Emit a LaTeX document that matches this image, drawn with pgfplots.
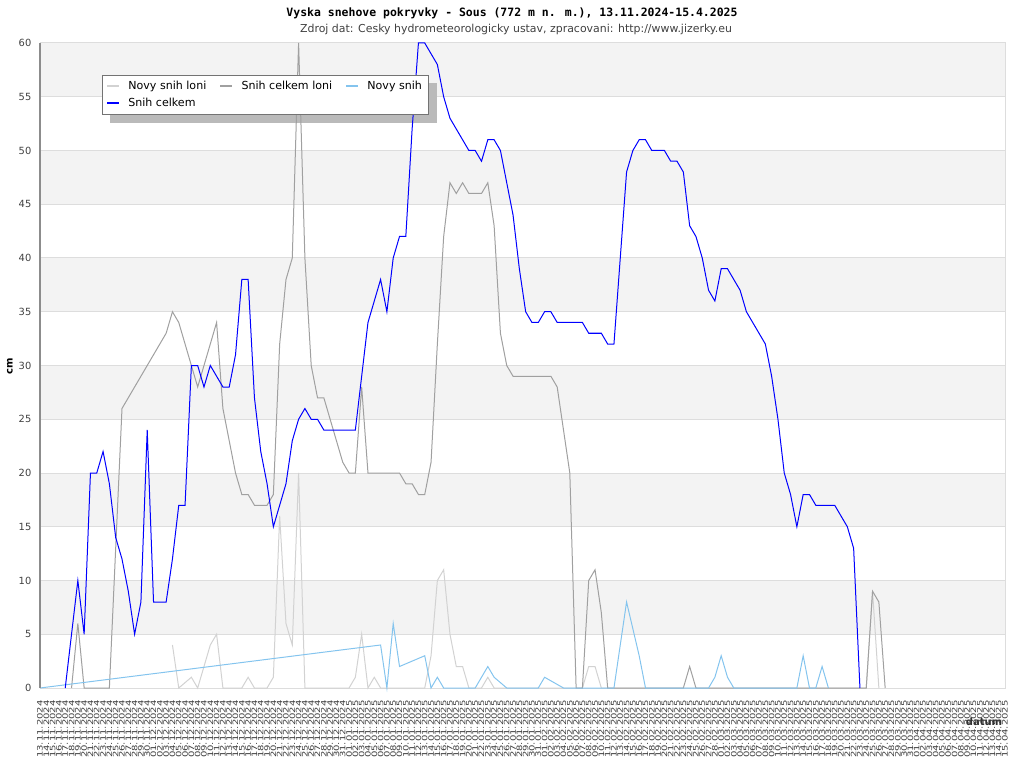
\documentclass[border=0pt]{standalone}
\usepackage{fontspec}
\setmainfont{DejaVu Sans}
\newfontfamily\monofont{DejaVu Sans Mono}
\newfontfamily\datefont[FakeStretch=1.35]{DejaVu Sans}
\usepackage{pgfplots}
\pgfplotsset{compat=1.18}

\definecolor{snowblue}{HTML}{0000FF}
\definecolor{newblue}{HTML}{84C4EE}
\definecolor{lastgray}{HTML}{A0A0A0}
\definecolor{newgray}{HTML}{D2D2D2}
\definecolor{band}{HTML}{F3F3F3}
\definecolor{gridc}{HTML}{DDDDDD}

\begin{document}
\begin{tikzpicture}
\begin{axis}[
  set layers,
  scale only axis,
  at={(30pt,60pt)}, anchor=south west,
  width=723.75pt, height=483.75pt,
  xmin=0, xmax=153, ymin=0, ymax=60,
  ytick={0,5,...,60},
  xtick={0,...,153},
  xticklabels={13.11.2024,14.11.2024,15.11.2024,16.11.2024,17.11.2024,18.11.2024,19.11.2024,20.11.2024,21.11.2024,22.11.2024,23.11.2024,24.11.2024,25.11.2024,26.11.2024,27.11.2024,28.11.2024,29.11.2024,30.11.2024,
    01.12.2024,02.12.2024,03.12.2024,04.12.2024,05.12.2024,06.12.2024,07.12.2024,08.12.2024,09.12.2024,10.12.2024,11.12.2024,12.12.2024,13.12.2024,14.12.2024,15.12.2024,16.12.2024,17.12.2024,18.12.2024,19.12.2024,20.12.2024,21.12.2024,22.12.2024,23.12.2024,24.12.2024,25.12.2024,26.12.2024,27.12.2024,28.12.2024,29.12.2024,30.12.2024,31.12.2024,
    01.01.2025,02.01.2025,03.01.2025,04.01.2025,05.01.2025,06.01.2025,07.01.2025,08.01.2025,09.01.2025,10.01.2025,11.01.2025,12.01.2025,13.01.2025,14.01.2025,15.01.2025,16.01.2025,17.01.2025,18.01.2025,19.01.2025,20.01.2025,21.01.2025,22.01.2025,23.01.2025,24.01.2025,25.01.2025,26.01.2025,27.01.2025,28.01.2025,29.01.2025,30.01.2025,31.01.2025,
    01.02.2025,02.02.2025,03.02.2025,04.02.2025,05.02.2025,06.02.2025,07.02.2025,08.02.2025,09.02.2025,10.02.2025,11.02.2025,12.02.2025,13.02.2025,14.02.2025,15.02.2025,16.02.2025,17.02.2025,18.02.2025,19.02.2025,20.02.2025,21.02.2025,22.02.2025,23.02.2025,24.02.2025,25.02.2025,26.02.2025,27.02.2025,28.02.2025,
    01.03.2025,02.03.2025,03.03.2025,04.03.2025,05.03.2025,06.03.2025,07.03.2025,08.03.2025,09.03.2025,10.03.2025,11.03.2025,12.03.2025,13.03.2025,14.03.2025,15.03.2025,16.03.2025,17.03.2025,18.03.2025,19.03.2025,20.03.2025,21.03.2025,22.03.2025,23.03.2025,24.03.2025,25.03.2025,26.03.2025,27.03.2025,28.03.2025,29.03.2025,30.03.2025,31.03.2025,
    01.04.2025,02.04.2025,03.04.2025,04.04.2025,05.04.2025,06.04.2025,07.04.2025,08.04.2025,09.04.2025,10.04.2025,11.04.2025,12.04.2025,13.04.2025,14.04.2025,15.04.2025},
  ymajorgrids, major grid style={gridc, line width=0.75pt},
  major tick length=0pt,
  axis line style={draw=gridc, line width=0.75pt},
  clip=false,
  /pgf/number format/assume math mode=true,
  yticklabel style={font=\fontsize{7.4}{8}\selectfont, text=black!75, xshift=-3pt},
  xticklabel style={font=\datefont\fontsize{5.6}{6}\selectfont, rotate=90, anchor=east, inner sep=0pt, text=black!75},
  xticklabel shift=9pt,
  legend columns=3,
  legend cell align=left,
  legend style={name=leg, at={(0.0642,0.9507)}, anchor=north west, draw=black!55, fill=white,
    font=\fontsize{8.3}{10}\selectfont, inner xsep=3pt, inner ysep=2.4pt, row sep=1pt,
    /tikz/every odd column/.append style={column sep=4.5pt},
    /tikz/every even column/.append style={column sep=7.8pt}},
  legend image code/.code={\draw[#1, line width=1.6pt] (0pt,0pt) -- (8.5pt,0pt);},
]
\begin{pgfonlayer}{axis background}
\fill[band] (axis cs:0,5) rectangle (axis cs:153,10);
\fill[band] (axis cs:0,15) rectangle (axis cs:153,20);
\fill[band] (axis cs:0,25) rectangle (axis cs:153,30);
\fill[band] (axis cs:0,35) rectangle (axis cs:153,40);
\fill[band] (axis cs:0,45) rectangle (axis cs:153,50);
\fill[band] (axis cs:0,55) rectangle (axis cs:153,60);
\end{pgfonlayer}

% Novy snih loni
\addplot[newgray, line width=0.75pt] coordinates {
(21,4) (22,0) (24,1) (25,0) (27,4) (28,5) (29,0) (32,0) (33,1) (34,0) (36,0) (37,1)
(38,16) (39,6) (40,4) (41,20) (42,0) (49,0) (50,1) (51,5) (52,0) (53,1) (54,0)
(61,0) (62,3) (63,10) (64,11) (65,5) (66,2) (67,2) (68,0) (70,0) (71,1) (72,0)
(86,0) (87,2) (88,2) (89,0) (131,0) (132,9) (133,0)
};
\addlegendentry{Novy snih loni}

% Snih celkem loni
\addplot[lastgray, line width=0.75pt] coordinates {
(5,0) (6,6) (7,0) (11,0) (13,26) (20,33) (21,35) (22,34) (23,32) (24,30) (25,28)
(26,30) (27,32) (28,34) (29,26) (30,23) (31,20) (32,18) (33,18) (34,17) (35,17)
(36,17) (37,18) (38,32) (39,38) (40,40) (41,60) (42,40) (43,30) (44,27) (45,27)
(46,25) (47,23) (48,21) (49,20) (50,20) (51,28) (52,20) (53,20) (54,20) (55,20)
(56,20) (57,20) (58,19) (59,19) (60,18) (61,18) (62,21) (63,32) (64,42) (65,47)
(66,46) (67,47) (68,46) (69,46) (70,46) (71,47) (72,43) (73,33) (74,30) (75,29)
(76,29) (77,29) (78,29) (79,29) (80,29) (81,29) (82,28) (83,24) (84,20) (85,0)
(86,0) (87,10) (88,11) (89,7) (90,0) (102,0) (103,2) (104,0) (131,0) (132,9)
(133,8) (134,0)
};
\addlegendentry{Snih celkem loni}

% Novy snih
\addplot[newblue, line width=0.75pt] coordinates {
(0,0) (54,4) (55,0) (56,6) (57,2) (61,3) (62,0) (63,1) (64,0) (69,0) (71,2) (72,1)
(74,0) (79,0) (80,1) (83,0) (91,0) (93,8) (95,3) (96,0) (106,0) (107,1) (108,3)
(109,1) (110,0) (120,0) (121,3) (122,0) (123,0) (124,2) (125,0)
};
\addlegendentry{Novy snih}

% Snih celkem
\addplot[snowblue, line width=0.75pt] coordinates {
(4,0) (5,5) (6,10) (7,5) (8,20) (9,20) (10,22) (11,19) (12,14) (13,12) (14,9)
(15,5) (16,8) (17,24) (18,8) (19,8) (20,8) (21,12) (22,17) (23,17) (24,30) (25,30)
(26,28) (27,30) (28,29) (29,28) (30,28) (31,31) (32,38) (33,38) (34,27) (35,22)
(36,19) (37,15) (38,17) (39,19) (40,23) (41,25) (42,26) (43,25) (44,25) (45,24)
(46,24) (47,24) (48,24) (49,24) (50,24) (51,29) (52,34) (53,36) (54,38) (55,35)
(56,40) (57,42) (58,42) (59,52) (60,60) (61,60) (62,59) (63,58) (64,55) (65,53)
(66,52) (67,51) (68,50) (69,50) (70,49) (71,51) (72,51) (73,50) (74,47) (75,44)
(76,39) (77,35) (78,34) (79,34) (80,35) (81,35) (82,34) (83,34) (84,34) (85,34)
(86,34) (87,33) (88,33) (89,33) (90,32) (91,32) (92,40) (93,48) (94,50) (95,51)
(96,51) (97,50) (98,50) (99,50) (100,49) (101,49) (102,48) (103,43) (104,42)
(105,40) (106,37) (107,36) (108,39) (109,39) (110,38) (111,37) (112,35) (113,34)
(114,33) (115,32) (116,29) (117,25) (118,20) (119,18) (120,15) (121,18) (122,18)
(123,17) (124,17) (125,17) (126,17) (127,16) (128,15) (129,13) (130,0)
};
\addlegendentry{Snih celkem}

\draw[black!45, line width=1pt] (rel axis cs:0,0) -- (rel axis cs:0,1);
\end{axis}

% shadow of the legend box
\begin{pgfonlayer}{pre main}
\fill[black!27] ([shift={(6pt,-6pt)}]leg.south west) rectangle ([shift={(6pt,-6pt)}]leg.north east);
\end{pgfonlayer}

\node[font=\monofont\bfseries\fontsize{8.6}{10}\selectfont] at (384pt,566pt)
  {Vyska snehove pokryvky - Sous (772 m n. m.), 13.11.2024-15.4.2025};
\node[font=\fontsize{8.2}{9}\selectfont, text=black!75] at (387pt,553.8pt)
  {Zdroj dat: Cesky hydrometeorologicky ustav, zpracovani: http://www.jizerky.eu};
\node[font=\bfseries\fontsize{7.5}{9}\selectfont, rotate=90] at (7.5pt,301.5pt) {cm};
\node[font=\bfseries\fontsize{7.5}{9}\selectfont, text=black!80] at (738pt,35pt) {datum};
\pgfresetboundingbox
\path (0,0) rectangle (768pt,576pt);
\end{tikzpicture}
\end{document}
